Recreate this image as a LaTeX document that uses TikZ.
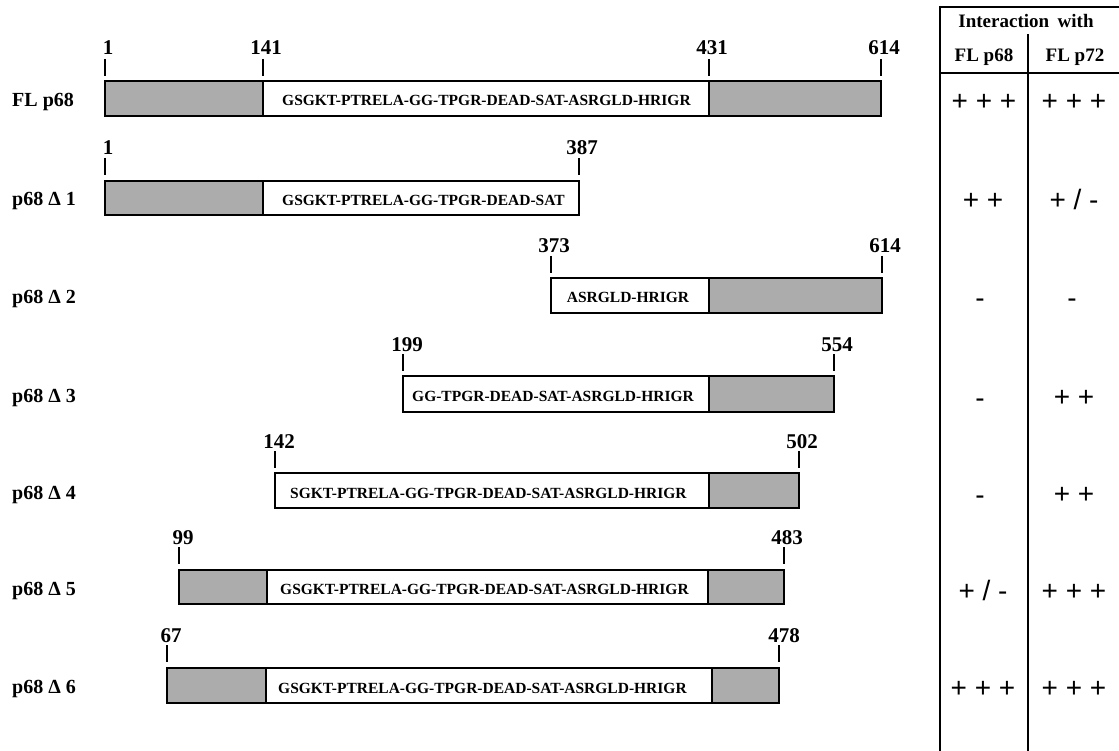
\documentclass[tikz,border=0pt]{standalone}
\usepackage{fontspec}
\setmainfont{Liberation Serif}
\newfontfamily\sansf{Liberation Sans}
\definecolor{shade}{RGB}{172,172,172}
\tikzset{
 bar/.style={draw=black, line width=1.8pt, fill=white},
 shd/.style={fill=shade, draw=black, line width=1.8pt},
 tickline/.style={line width=1.6pt},
 num/.style={font=\fontsize{21}{21}\selectfont\bfseries, anchor=base, inner sep=0pt},
 rowlab/.style={font=\fontsize{20}{20}\selectfont\bfseries, anchor=base west, inner sep=0pt},
 seq/.style={font=\fontsize{15.5}{15.5}\selectfont\bfseries, inner sep=0pt},
 ent/.style={font=\fontsize{28}{28}\sansf, anchor=base, inner sep=0pt},
 head/.style={font=\fontsize{19}{19}\selectfont\bfseries, anchor=base, inner sep=0pt},
 tab/.style={line width=2pt}
}
\begin{document}
\begin{tikzpicture}[x=1pt,y=-1pt]
\useasboundingbox (0,0) rectangle (1119,751);

% ---------- FL p68 ----------
\node[rowlab] (l0) at (12,106.5) {FL p68};
\draw[bar] (105,81) rectangle (881,116);
\draw[shd] (105,81) rectangle (263,116);
\draw[shd] (709,81) rectangle (881,116);
\node[seq,anchor=base west] (s0) at (282,106) {GSGKT-PTRELA-GG-TPGR-DEAD-SAT-ASRGLD-HRIGR};
\draw[tickline] (105,59) -- (105,76);
\draw[tickline] (263,59) -- (263,76);
\draw[tickline] (709,59) -- (709,76);
\draw[tickline] (881,59) -- (881,76);
\node[num] (n01) at (108,55) {1};
\node[num] (n02) at (266,55) {141};
\node[num] (n03) at (712,55) {431};
\node[num] (n04) at (884,55) {614};

% ---------- p68 D1 ----------
\node[rowlab] (l1) at (12,206) {p68 Δ 1};
\draw[bar] (105,181) rectangle (579,215);
\draw[shd] (105,181) rectangle (263,215);
\node[seq,anchor=base west] (s1) at (282,205.5) {GSGKT-PTRELA-GG-TPGR-DEAD-SAT};
\draw[tickline] (105,158) -- (105,175);
\draw[tickline] (579,158) -- (579,175);
\node[num] (n11) at (108,155) {1};
\node[num] (n12) at (582,155) {387};

% ---------- p68 D2 ----------
\node[rowlab] (l2) at (12,303.5) {p68 Δ 2};
\draw[bar] (551,278) rectangle (882,313);
\draw[shd] (709,278) rectangle (882,313);
\node[seq,anchor=base] (s2) at (628,303) {ASRGLD-HRIGR};
\draw[tickline] (551,256) -- (551,273);
\draw[tickline] (882,256) -- (882,273);
\node[num] (n21) at (554,253) {373};
\node[num] (n22) at (885,253) {614};

% ---------- p68 D3 ----------
\node[rowlab] (l3) at (12,402) {p68 Δ 3};
\draw[bar] (403,376) rectangle (834,412);
\draw[shd] (709,376) rectangle (834,412);
\node[seq,anchor=base west] (s3) at (412,401.5) {GG-TPGR-DEAD-SAT-ASRGLD-HRIGR};
\draw[tickline] (403,354) -- (403,371);
\draw[tickline] (834,354) -- (834,371);
\node[num] (n31) at (407,351) {199};
\node[num] (n32) at (837,351) {554};

% ---------- p68 D4 ----------
\node[rowlab] (l4) at (12,499) {p68 Δ 4};
\draw[bar] (275,473) rectangle (799,508);
\draw[shd] (709,473) rectangle (799,508);
\node[seq,anchor=base west] (s4) at (290,498.5) {SGKT-PTRELA-GG-TPGR-DEAD-SAT-ASRGLD-HRIGR};
\draw[tickline] (275,451) -- (275,468);
\draw[tickline] (799,451) -- (799,468);
\node[num] (n41) at (279,448) {142};
\node[num] (n42) at (802,448) {502};

% ---------- p68 D5 ----------
\node[rowlab] (l5) at (12,595) {p68 Δ 5};
\draw[bar] (179,570) rectangle (784,604);
\draw[shd] (179,570) rectangle (267,604);
\draw[shd] (708,570) rectangle (784,604);
\node[seq,anchor=base west] (s5) at (280,594.5) {GSGKT-PTRELA-GG-TPGR-DEAD-SAT-ASRGLD-HRIGR};
\draw[tickline] (179,547) -- (179,564);
\draw[tickline] (784,547) -- (784,564);
\node[num] (n51) at (183,544) {99};
\node[num] (n52) at (787,544) {483};

% ---------- p68 D6 ----------
\node[rowlab] (l6) at (12,693.5) {p68 Δ 6};
\draw[bar] (167,668) rectangle (779,703);
\draw[shd] (167,668) rectangle (266,703);
\draw[shd] (712,668) rectangle (779,703);
\node[seq,anchor=base west] (s6) at (278,693) {GSGKT-PTRELA-GG-TPGR-DEAD-SAT-ASRGLD-HRIGR};
\draw[tickline] (167,645) -- (167,662);
\draw[tickline] (779,645) -- (779,662);
\node[num] (n61) at (171,642) {67};
\node[num] (n62) at (784,642) {478};

% ---------- table ----------
\draw[tab] (940,7) -- (1120,7);
\draw[tab] (940,6) -- (940,752);
\draw[tab] (940,73) -- (1120,73);
\draw[tab] (1028,34) -- (1028,752);
\node[head] (h0) at (1026,28) {Interaction\hspace{0.45em}with};
\node[head] (h1) at (984,62) {FL p68};
\node[head] (h2) at (1075,62) {FL p72};

\node[ent] (e01) at (984,111) {+ + +};
\node[ent] (e02) at (1074,111) {+ + +};
\node[ent] (e11) at (983,210) {+ +};
\node[ent] (e12) at (1074,210) {+ / -};
\node[ent] (e21) at (980,308) {-};
\node[ent] (e22) at (1072,308) {-};
\node[ent] (e31) at (980,407) {-};
\node[ent] (e32) at (1074,406) {+ +};
\node[ent] (e41) at (980,504) {-};
\node[ent] (e42) at (1074,503) {+ +};
\node[ent] (e51) at (983,600) {+ / -};
\node[ent] (e52) at (1074,600) {+ + +};
\node[ent] (e61) at (983,697) {+ + +};
\node[ent] (e62) at (1074,697) {+ + +};
\end{tikzpicture}
\end{document}
